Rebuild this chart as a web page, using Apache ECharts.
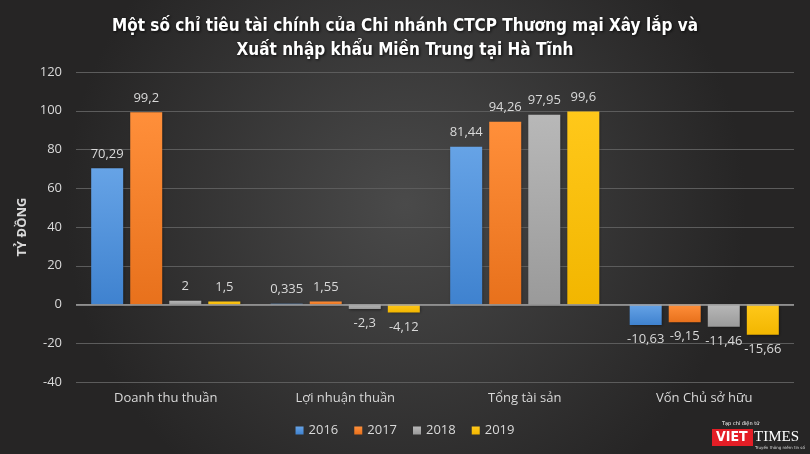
<!DOCTYPE html>
<html lang="vi">
<head>
    <meta charset="UTF-8">
    <title>Chi nhánh CTCP Thương mại Xây lắp và XNK Miền Trung tại Hà Tĩnh</title>
    <script type="text/javascript" src="https://cdn.jsdelivr.net/npm/echarts@6/dist/echarts.min.js"></script>
    <style>
        html, body { margin: 0; padding: 0; }
        #chart { width: 810px; height: 454px; }
    </style>
</head>
<body>
<div id="chart"></div>

<script type="text/javascript">
    // du lieu doc tu hinh
    var categories = ['Doanh thu thuần', 'Lợi nhuận thuần', 'Tổng tài sản', 'Vốn Chủ sở hữu'];
    var years = ['2016', '2017', '2018', '2019'];
    var v2016 = [70.29, 0.335, 81.44, -10.63];
    var v2017 = [99.2, 1.55, 94.26, -9.15];
    var v2018 = [2, -2.3, 97.95, -11.46];
    var v2019 = [1.5, -4.12, 99.6, -15.66];
    var yTicks = [-40, -20, 0, 20, 40, 60, 80, 100, 120];

    var colors = [
        ['#66a3e6', '#3f82cf'],
        ['#ff8f3a', '#e8711c'],
        ['#b8b8b8', '#9a9a9a'],
        ['#ffc81a', '#f2b600']
    ];
    var font = 'Open Sans';

    function makeSeries(name, values, idx) {
        var s = {
            name: name,
            type: 'bar',
            barWidth: 32,
            barGap: '22%',
            itemStyle: {
                color: new echarts.graphic.LinearGradient(0, 0, 0, 1, [
                    {offset: 0, color: colors[idx][0]},
                    {offset: 1, color: colors[idx][1]}
                ]),
                shadowColor: 'rgba(0,0,0,0.45)',
                shadowBlur: 3,
                shadowOffsetX: 1,
                shadowOffsetY: 1
            },
            label: {
                show: true,
                color: '#d9d9d9',
                fontFamily: font,
                fontSize: 13,
                distance: 8,
                formatter: function (p) {
                    return String(p.value).replace('.', ',');
                }
            },
            data: values.map(function (v) {
                return {value: v, label: {position: v < 0 ? 'bottom' : 'top'}};
            })
        };
        if (idx === 0) {
            // duong truc 0
            s.markLine = {
                silent: true,
                symbol: 'none',
                label: {show: false},
                lineStyle: {color: '#a0a0a0', type: 'solid', width: 1.5},
                data: [{yAxis: 0}]
            };
        }
        return s;
    }

    var chart = echarts.init(document.getElementById('chart'));
    chart.setOption({
        backgroundColor: new echarts.graphic.RadialGradient(0.5, 0.45, 0.75, [
            {offset: 0, color: '#4a4a4a'},
            {offset: 1, color: '#262525'}
        ]),
        color: ['#4a8fdc', '#f07f26', '#a5a5a5', '#ffc000'],
        title: {
            text: 'Một số chỉ tiêu tài chính của Chi nhánh CTCP Thương mại Xây lắp và\nXuất nhập khẩu Miền Trung tại Hà Tĩnh',
            left: 'center',
            top: 10,
            textStyle: {
                color: '#ffffff',
                fontFamily: 'DejaVu Sans Condensed',
                fontWeight: 'bold',
                fontSize: 17,
                lineHeight: 24,
                textShadowColor: 'rgba(0,0,0,0.8)',
                textShadowBlur: 3,
                textShadowOffsetX: 1,
                textShadowOffsetY: 1
            }
        },
        legend: {
            data: years,
            bottom: 12,
            left: 'center',
            itemWidth: 8,
            itemHeight: 8,
            itemGap: 16,
            icon: 'rect',
            textStyle: {color: '#d9d9d9', fontFamily: font, fontSize: 13}
        },
        grid: {left: 76, right: 16, top: 72, bottom: 72, outerBoundsMode: 'none', containLabel: false},
        xAxis: {
            type: 'category',
            data: categories,
            axisTick: {show: false},
            axisLine: {show: false, onZero: false},
            axisLabel: {
                color: '#d9d9d9',
                fontFamily: font,
                fontSize: 13,
                interval: 0,
                margin: 10
            }
        },
        yAxis: {
            type: 'value',
            min: yTicks[0],
            max: yTicks[yTicks.length - 1],
            interval: 20,
            name: 'TỶ ĐỒNG',
            nameLocation: 'middle',
            nameGap: 44,
            nameTextStyle: {color: '#d9d9d9', fontFamily: font, fontWeight: 'bold', fontSize: 13},
            axisLine: {show: false},
            axisTick: {show: false},
            axisLabel: {color: '#d9d9d9', fontFamily: font, fontSize: 13, margin: 14},
            splitLine: {lineStyle: {color: '#5c5c5c', width: 1}}
        },
        series: [
            makeSeries(years[0], v2016, 0),
            makeSeries(years[1], v2017, 1),
            makeSeries(years[2], v2018, 2),
            makeSeries(years[3], v2019, 3)
        ],
        graphic: [
            {type: 'rect', left: 712, top: 429, shape: {width: 41, height: 17}, style: {fill: '#e41e26'}},
            {type: 'text', left: 716, top: 430, style: {text: 'VIET', fill: '#ffffff', font: 'bold 14px "DejaVu Sans Condensed"'}},
            {type: 'text', left: 754, top: 430, style: {text: 'TIMES', fill: '#ffffff', font: '15px "Liberation Serif"'}},
            {type: 'text', left: 722, top: 421, style: {text: 'Tạp chí điện tử', fill: '#ffffff', font: '5px "DejaVu Sans"'}},
            {type: 'text', left: 755, top: 446, style: {text: 'Truyền thông niềm tin số', fill: '#dddddd', font: '4px "DejaVu Sans"'}}
        ]
    });
</script>
</body>
</html>
